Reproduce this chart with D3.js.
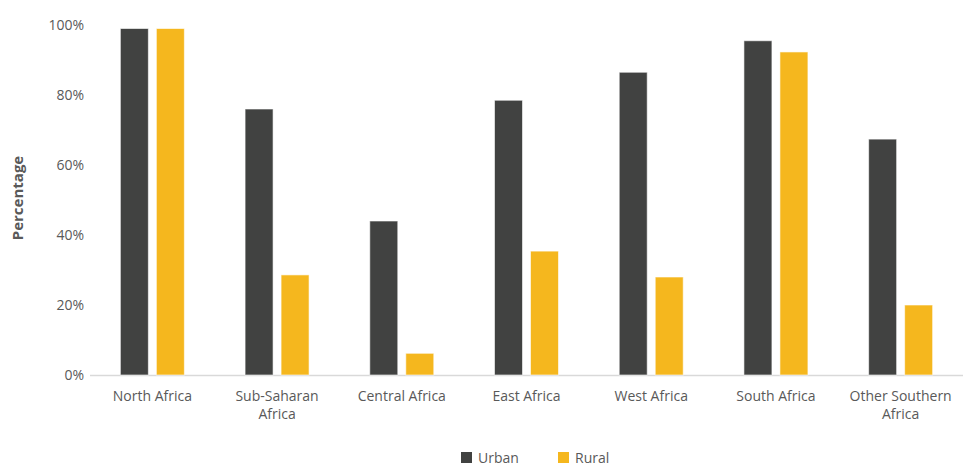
<!DOCTYPE html>
<html><head><meta charset="utf-8">
<script src="https://cdn.jsdelivr.net/npm/d3@7"></script>
<style>body{margin:0;background:#fff;}svg{display:block;font-family:"Open Sans","Noto Sans",sans-serif;}</style>
</head><body><svg id="c" width="965" height="466"></svg>
<script>
const categories = [["North Africa"],["Sub-Saharan","Africa"],["Central Africa"],["East Africa"],["West Africa"],["South Africa"],["Other Southern","Africa"]];
const seriesNames = ["Urban","Rural"];
const urban = [99, 76, 44, 78.5, 86.5, 95.5, 67.4];
const rural = [99, 28.6, 6.2, 35.4, 28, 92.3, 20];
const yTicks = [0,20,40,60,80,100];
const colors = ["#414241","#F5B71E"];

const svg = d3.select("#c");
const m = {l:90, r:2, t:25, b:91};
const W = 965, H = 466;
const x = d3.scaleBand().domain(d3.range(categories.length)).range([m.l, W-m.r]).paddingInner(0).paddingOuter(0);
const y = d3.scaleLinear().domain([0,100]).range([H-m.b, m.t]);
const bw = 28, gap = 8;

// y ticks
svg.append("g").selectAll("text").data(yTicks).join("text")
  .attr("x", 84).attr("y", d=>y(d)).attr("dy","0.35em").attr("text-anchor","end")
  .attr("font-size",14).attr("fill","#595959").text(d=>d+"%");

// axis line
svg.append("line").attr("x1",m.l).attr("x2",W-m.r).attr("y1",y(0)+0.5).attr("y2",y(0)+0.5)
  .attr("stroke","#d9d9d9").attr("stroke-width",1.5);

const series = [urban, rural];
series.forEach((vals,si)=>{
  svg.append("g").selectAll("rect").data(vals).join("rect")
    .attr("x",(d,i)=> x(i)+x.bandwidth()/2 - (bw+gap/2) + si*(bw+gap) )
    .attr("width",bw)
    .attr("y",d=>y(d)).attr("height",d=>y(0)-y(d))
    .attr("fill",colors[si]).attr("stroke","#fff").attr("stroke-opacity",0.6).attr("stroke-width",1);
});

// category labels (one text per line)
const lines = [];
categories.forEach((c,i)=>c.forEach((s,k)=>lines.push({i,k,s})));
svg.append("g").selectAll("text").data(lines).join("text")
  .attr("x",d=>x(d.i)+x.bandwidth()/2).attr("y",d=>401+d.k*18).attr("text-anchor","middle")
  .attr("font-size",14).attr("fill","#595959").text(d=>d.s);

// y title
svg.append("text").attr("transform","translate(23,198) rotate(-90)").attr("text-anchor","middle")
  .attr("font-size",15).attr("font-weight","bold").attr("fill","#595959").text("Percentage");

// legend
const lg = svg.append("g");
const lx = [461, 558];
seriesNames.forEach((n,i)=>{
  lg.append("rect").attr("x",lx[i]).attr("y",452).attr("width",11).attr("height",11).attr("fill",colors[i]);
  lg.append("text").attr("x",lx[i]+17).attr("y",458).attr("dy","0.35em").attr("font-size",14).attr("fill","#595959").text(n);
});
</script></body></html>
